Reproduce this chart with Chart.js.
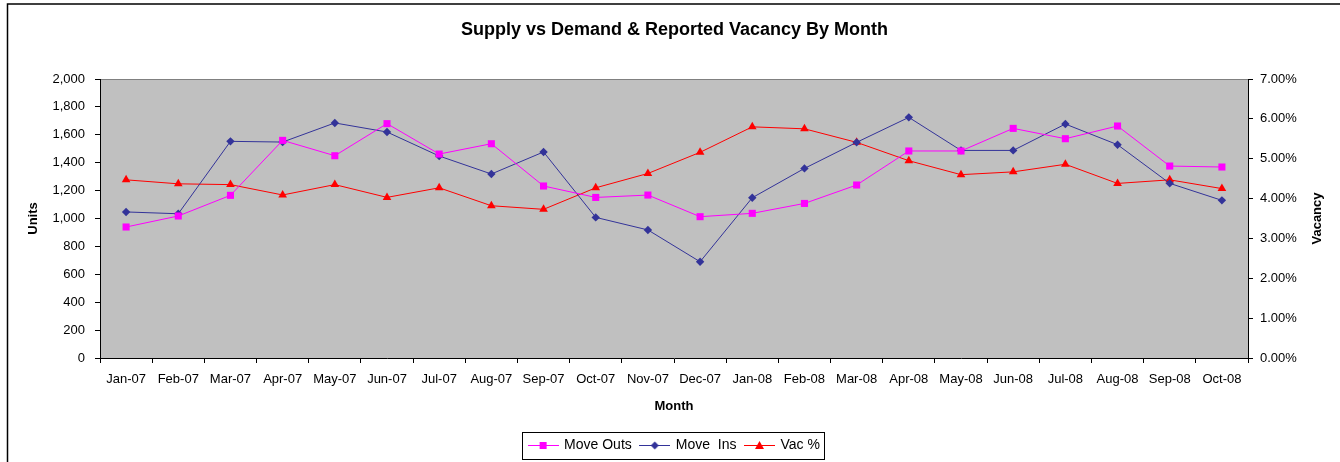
<!DOCTYPE html>
<html>
<head>
<meta charset="utf-8">
<script src="https://cdn.jsdelivr.net/npm/chart.js@4/dist/chart.umd.min.js"></script>
<style>
html,body{margin:0;padding:0;background:#fff;overflow:hidden;}
canvas{display:block;}
</style>
</head>
<body>
<canvas id="c" width="1340" height="462"></canvas>
<script>
const categories = ['Jan-07','Feb-07','Mar-07','Apr-07','May-07','Jun-07','Jul-07','Aug-07','Sep-07','Oct-07','Nov-07','Dec-07','Jan-08','Feb-08','Mar-08','Apr-08','May-08','Jun-08','Jul-08','Aug-08','Sep-08','Oct-08'];
const moveOuts = [939,1018,1166,1560,1450,1680,1462,1536,1233,1151,1168,1013,1037,1108,1240,1484,1484,1646,1572,1663,1376,1369];
const moveIns = [1047,1034,1553,1548,1685,1620,1448,1319,1477,1008,918,690,1149,1359,1546,1725,1488,1488,1677,1529,1252,1130];
const vacancyPct = [4.47,4.37,4.35,4.09,4.35,4.03,4.27,3.82,3.73,4.27,4.63,5.16,5.80,5.75,5.41,4.95,4.60,4.67,4.86,4.38,4.47,4.25];
const seriesNames = ['Move Outs','Move  Ins','Vac %'];
const unitsTicks = {min:0, max:2000, step:200};
const vacTicks = {min:0, max:7, step:1};

const FONT = '"Liberation Sans", Arial, sans-serif';
const colors = ['#FF00FF','#333399','#FF0000'];
const styles = ['rect','rectRot','triangle'];

function legendIcon(color, style){
  const cv = document.createElement('canvas');
  cv.width = 31; cv.height = 12;
  const g = cv.getContext('2d');
  g.strokeStyle = color; g.lineWidth = 1;
  g.beginPath(); g.moveTo(0,6.5); g.lineTo(31,6.5); g.stroke();
  g.fillStyle = color;
  g.beginPath();
  const cx = 15.5, cy = 6.5;
  if (style === 'rect'){ g.rect(cx-3.5, cy-3.5, 7, 7); }
  else if (style === 'rectRot'){ g.moveTo(cx, cy-4); g.lineTo(cx+4, cy); g.lineTo(cx, cy+4); g.lineTo(cx-4, cy); g.closePath(); }
  else { g.moveTo(cx, cy-4.5); g.lineTo(cx+4.5, cy+3.5); g.lineTo(cx-4.5, cy+3.5); g.closePath(); }
  g.fill();
  return cv;
}
const icons = colors.map((c,i)=>legendIcon(c, styles[i]));

const framePlugin = {
  id:'frame',
  beforeDraw(chart){
    const {ctx, chartArea:a} = chart;
    ctx.save();
    ctx.fillStyle = '#C0C0C0';
    ctx.fillRect(a.left, a.top, a.right-a.left, a.bottom-a.top);
    ctx.strokeStyle = '#808080'; ctx.lineWidth = 1;
    ctx.beginPath(); ctx.moveTo(a.left, a.top+0.5); ctx.lineTo(a.right, a.top+0.5); ctx.stroke();
    ctx.strokeStyle = '#000'; ctx.lineWidth = 1.5;
    ctx.beginPath(); ctx.moveTo(7.5, 470); ctx.lineTo(7.5, 4); ctx.lineTo(1350, 4); ctx.stroke();
    ctx.restore();
  },
  afterDraw(chart){
    const {ctx, chartArea:a} = chart;
    const lg = chart.legend;
    if (lg && lg.legendHitBoxes && lg.legendHitBoxes.length){
      const hb = lg.legendHitBoxes;
      let l = Infinity, r = -Infinity, t = Infinity, b = -Infinity;
      hb.forEach(h=>{ l=Math.min(l,h.left); r=Math.max(r,h.left+h.width); t=Math.min(t,h.top); b=Math.max(b,h.top+h.height); });
      ctx.save();
      ctx.strokeStyle = '#000'; ctx.lineWidth = 1;
      ctx.strokeRect(Math.round(l-7)+0.5, Math.round(t-6)+0.5, Math.round(r-l+11), Math.round(b-t+13));
      ctx.restore();
    }
    ctx.save();
    ctx.font = 'bold 13px ' + FONT;
    ctx.fillStyle = '#000';
    ctx.textAlign = 'center'; ctx.textBaseline = 'middle';
    ctx.translate(1317, (a.top + a.bottom)/2);
    ctx.rotate(-Math.PI/2);
    ctx.fillText('Vacancy', 0, 0);
    ctx.restore();
  }
};

new Chart(document.getElementById('c'), {
  type:'line',
  data:{
    labels: categories,
    datasets:[
      {label: seriesNames[0], data: moveOuts, yAxisID:'y', borderColor: colors[0], backgroundColor: colors[0], borderWidth:1, pointStyle:'rect', pointRadius:5, pointBorderWidth:0, tension:0},
      {label: seriesNames[1], data: moveIns, yAxisID:'y', borderColor: colors[1], backgroundColor: colors[1], borderWidth:1, pointStyle:'rectRot', pointRadius:4.2, pointBorderWidth:0, tension:0},
      {label: seriesNames[2], data: vacancyPct, yAxisID:'y1', borderColor: colors[2], backgroundColor: colors[2], borderWidth:1, pointStyle:'triangle', pointRadius:5, pointBorderWidth:0, tension:0}
    ]
  },
  options:{
    responsive:false,
    animation:false,
    events:[],
    layout:{padding:{left:9, right:0, top:0, bottom:0}},
    plugins:{
      tooltip:{enabled:false},
      title:{display:true, text:'Supply vs Demand & Reported Vacancy By Month', color:'#000', font:{family:FONT, size:18, weight:'bold', lineHeight:1.2}, padding:{top:19.2, bottom:38.2}},
      legend:{
        position:'bottom',
        labels:{
          usePointStyle:true, pointStyleWidth:28, padding:9, color:'#000',
          font:{family:FONT, size:14},
          generateLabels(chart){
            return chart.data.datasets.map((d,i)=>({text:d.label, pointStyle:icons[i], fillStyle:colors[i], strokeStyle:colors[i], lineWidth:0, hidden:false, datasetIndex:i, fontColor:'#000'}));
          }
        }
      }
    },
    scales:{
      x:{
        type:'category', offset:true,
        grid:{display:true, offset:true, drawOnChartArea:false, drawTicks:true, tickLength:5, color:'#000', lineWidth:1},
        border:{display:true, color:'#000', width:1},
        ticks:{color:'#000', font:{family:FONT, size:13}, maxRotation:0, minRotation:0, autoSkip:false, padding:9},
        title:{display:true, text:'Month', color:'#000', font:{family:FONT, size:13, weight:'bold'}, padding:{top:0, bottom:15}},
        afterFit(s){ s.height = 71; }
      },
      y:{
        position:'left', min:unitsTicks.min, max:unitsTicks.max,
        grid:{display:true, drawOnChartArea:false, drawTicks:true, tickLength:5, color:'#000'},
        border:{display:true, color:'#000', width:1},
        ticks:{stepSize:unitsTicks.step, color:'#000', font:{family:FONT, size:13}, padding:10,
          callback:v=>v.toLocaleString('en-US')},
        title:{display:true, text:'Units', color:'#000', font:{family:FONT, size:13, weight:'bold'}, padding:{top:17, bottom:0}},
        afterFit(s){ s.width = 91; }
      },
      y1:{
        position:'right', min:vacTicks.min, max:vacTicks.max,
        grid:{display:true, drawOnChartArea:false, drawTicks:true, tickLength:5, color:'#000'},
        border:{display:true, color:'#000', width:1},
        ticks:{stepSize:vacTicks.step, color:'#000', font:{family:FONT, size:13}, padding:7,
          callback:v=>v.toFixed(2)+'%'},
        title:{display:false},
        afterFit(s){ s.width = 92; }
      }
    }
  },
  plugins:[framePlugin]
});
</script>
</body>
</html>
